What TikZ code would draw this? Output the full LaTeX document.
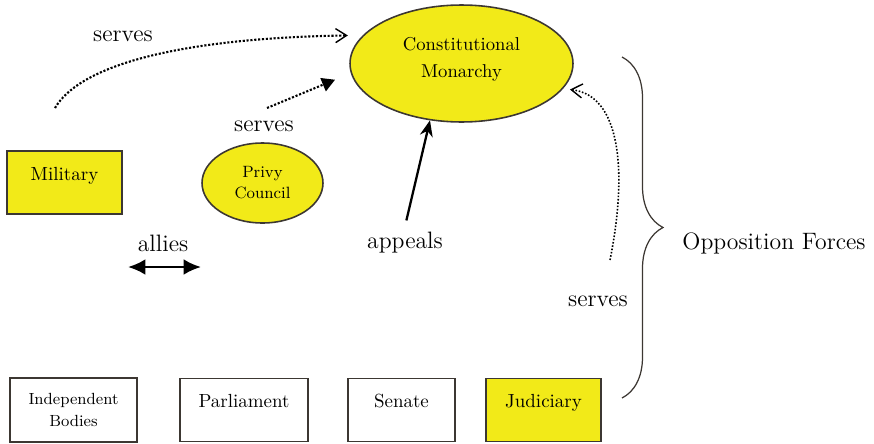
\documentclass[tikz,border=0pt]{standalone}
\usepackage{fontspec}
\usetikzlibrary{arrows.meta,decorations.pathreplacing,shapes.geometric}
\definecolor{monyellow}{RGB}{242,234,24}
\definecolor{edgegray}{RGB}{60,55,50}

\begin{document}
\begin{tikzpicture}[x=0.02cm, y=-0.02cm,
  box/.style={draw=edgegray, line width=0.9pt, font=\fontsize{10.8}{14}\selectfont, inner ysep=0.1cm, text height=0.48cm, text depth=0.58cm},
  yellowbox/.style={box, fill=monyellow},
  oval/.style={draw=edgegray, line width=0.9pt, ellipse, fill=monyellow, align=center, inner sep=0pt},
  lbl/.style={font=\fontsize{13.5}{16}\selectfont},
  servesarrow/.style={densely dotted, line width=1.2pt}]
  \useasboundingbox (0,0) rectangle (874,443);

  \node[oval, minimum width=4.46cm, minimum height=2.34cm, font=\fontsize{10.6}{15}\selectfont] (monarchy) at (461.5,63.5) {Constitutional\\Monarchy\rule[-0.24cm]{0pt}{0pt}};
  \node[oval, minimum width=2.42cm, minimum height=1.6cm, font=\fontsize{9.3}{12}\selectfont] (privy) at (262.5,183) {Privy\\Council};
  \node[yellowbox, minimum width=2.3cm] (military) at (64.5,182.5) {Military};

  \node[draw=edgegray, line width=0.9pt, minimum width=2.54cm, minimum height=1.28cm, align=center, font=\fontsize{9.2}{12}\selectfont] (indep) at (73.5,410) {Independent\\Bodies};
  \node[box, minimum width=2.56cm] (parliament) at (244,410) {Parliament};
  \node[box, minimum width=2.14cm] (senate) at (401.5,410) {Senate};
  \node[yellowbox, minimum width=2.3cm] (judiciary) at (543.5,410) {Judiciary};

  \node[lbl] (milserves) at (123,36) {serves};
  \node[lbl] (privyserves) at (264,126) {serves};
  \node[lbl] (allies) at (163,243) {allies};
  \node[lbl] (appeals) at (405,243) {appeals};
  \node[lbl] (judserves) at (598,301) {serves};
  \node[lbl] (opposition) at (774,243) {Opposition Forces};

  \coordinate (milstart) at (55,108);
  \coordinate (privystart) at (267,108);
  \coordinate (judstart) at (610,260);
  \coordinate (allyl) at (128,267);
  \coordinate (allyr) at (201,267);
  \coordinate (bracetop) at (622,57);
  \coordinate (bracebot) at (622,398);

  \draw[servesarrow, -{Straight Barb[length=2.2mm, width=2.8mm, line width=0.8pt]}, shorten >=0.3cm] (milstart) .. controls (80,65) and (180,38) .. (monarchy.164);
  \draw[servesarrow, -{Triangle[length=2.6mm, width=2.8mm]}, shorten >=0.34cm] (privystart) -- (monarchy.185.5);
  \draw[servesarrow, line width=0.9pt, -{Straight Barb[length=2.2mm, width=2.8mm, line width=0.8pt]}, shorten >=0.14cm] (judstart) .. controls (628,170) and (620,95) .. (monarchy.-14);
  \draw[line width=1.3pt, -{Stealth[length=3.2mm, width=2.6mm]}, shorten <=0.12cm] (appeals.north) -- (monarchy.241);
  \draw[line width=1.5pt, {Latex[length=3.5mm, width=3.2mm]}-{Latex[length=3.5mm, width=3.2mm]}] (allyl) -- (allyr);
  \draw[edgegray, line width=0.7pt, decorate, decoration={brace, amplitude=0.82cm}] (bracetop) -- (bracebot);
\end{tikzpicture}
\end{document}
